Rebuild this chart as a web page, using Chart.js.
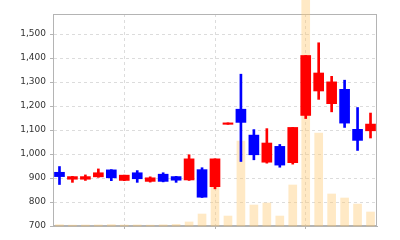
<!DOCTYPE html>
<html><head><meta charset="utf-8">
<script src="https://cdn.jsdelivr.net/npm/chart.js@4"></script>
<style>html,body{margin:0;padding:0;background:#fff}#wrap{width:400px;height:240px}</style>
</head><body><div id="wrap"><canvas id="c" width="400" height="240"></canvas></div>
<script>
const categories = ['1','2','3','4','5','6','7','8','9','10','11','12','13','14','15','16','17','18','19','20','21','22','23','24','25'];
const openV  = [924,895,895,905,934,890,922,886,916,906,892,935,864,1124,1187,1079,966,1032,964,1161,1263,1210,1270,1103,1097];
const highV  = [948,907,913,938,935,912,931,905,922,907,997,943,980,1130,1333,1102,1106,1040,1111,1411,1464,1324,1308,1194,1171];
const lowV   = [873,882,890,903,889,889,882,883,884,882,890,819,855,1124,969,976,962,945,958,1148,1228,1176,1111,1015,1067];
const closeV = [906,906,906,922,901,912,897,901,886,891,980,820,980,1130,1132,997,1046,954,1111,1411,1338,1301,1129,1057,1125];
const volumeV = [1.2,0.8,0.9,1.0,1.3,0.9,1.0,0.8,1.1,1.5,3.8,11.3,37.7,9.4,80,19.8,21.7,9.4,38.7,245,87.7,30.2,26.4,20.7,13.2];
const gridIdx = [5,12,19];
const yTicks = [700,800,900,1000,1100,1200,1300,1400,1500];

const UP = '#ff0000', DOWN = '#0000ff';
const colors = openV.map((o,i)=> closeV[i] >= o ? UP : DOWN);

const frame = {
  id:'frame',
  beforeDatasetsDraw(chart){
    const a = chart.chartArea, ctx = chart.ctx;
    ctx.save();
    ctx.strokeStyle = '#b4b4b4';
    ctx.lineWidth = 1;
    ctx.strokeRect(a.left+0.5, a.top+0.5, a.right-a.left-1, a.bottom-a.top-1);
    ctx.restore();
  }
};

new Chart(document.getElementById('c'), {
  type:'bar',
  data:{
    labels: categories,
    datasets:[
      { label:'body', data: openV.map((o,i)=>[o, closeV[i]]), backgroundColor: colors,
        barThickness:10, grouped:false, order:1, borderWidth:0, yAxisID:'y' },
      { label:'wick', data: lowV.map((l,i)=>[l, highV[i]]), backgroundColor: colors,
        barThickness:2, grouped:false, order:2, borderWidth:0, yAxisID:'y' },
      { label:'volume', data: volumeV, backgroundColor:'rgba(255,200,110,0.4)',
        barThickness:8, grouped:false, order:3, borderWidth:0, yAxisID:'yv', clip:false }
    ]
  },
  options:{
    responsive:false, animation:false, devicePixelRatio:1,
    layout:{padding:{top:14,right:23,left:0,bottom:0}},
    plugins:{legend:{display:false}, tooltip:{enabled:false}},
    scales:{
      x:{
        offset:true,
        afterFit(s){ s.height = 14; },
        ticks:{display:false},
        grid:{ offset:false, drawOnChartArea:true,
          color:(c)=> gridIdx.includes(c.index) ? '#dcdcdc' : 'rgba(0,0,0,0)',
          tickColor:(c)=> gridIdx.includes(c.index) ? '#b4b4b4' : 'rgba(0,0,0,0)',
          tickLength:3 },
        border:{color:'#b4b4b4', dash:[3,3]}
      },
      y:{
        position:'left', min:700, max:1584,
        afterFit(s){ s.width = 53; },
        afterBuildTicks(s){ s.ticks = yTicks.map(v=>({value:v})); },
        ticks:{ color:'#333', padding:4, font:{family:'DejaVu Sans', size:9},
          callback:(v)=> Number(v).toLocaleString('en-US') },
        grid:{ color:'#dcdcdc', tickColor:'#b4b4b4', tickLength:3 },
        border:{color:'#b4b4b4', dash:[3,3]}
      },
      yv:{ display:false, min:0, max:200, position:'right' }
    }
  },
  plugins:[frame]
});
</script></body></html>
